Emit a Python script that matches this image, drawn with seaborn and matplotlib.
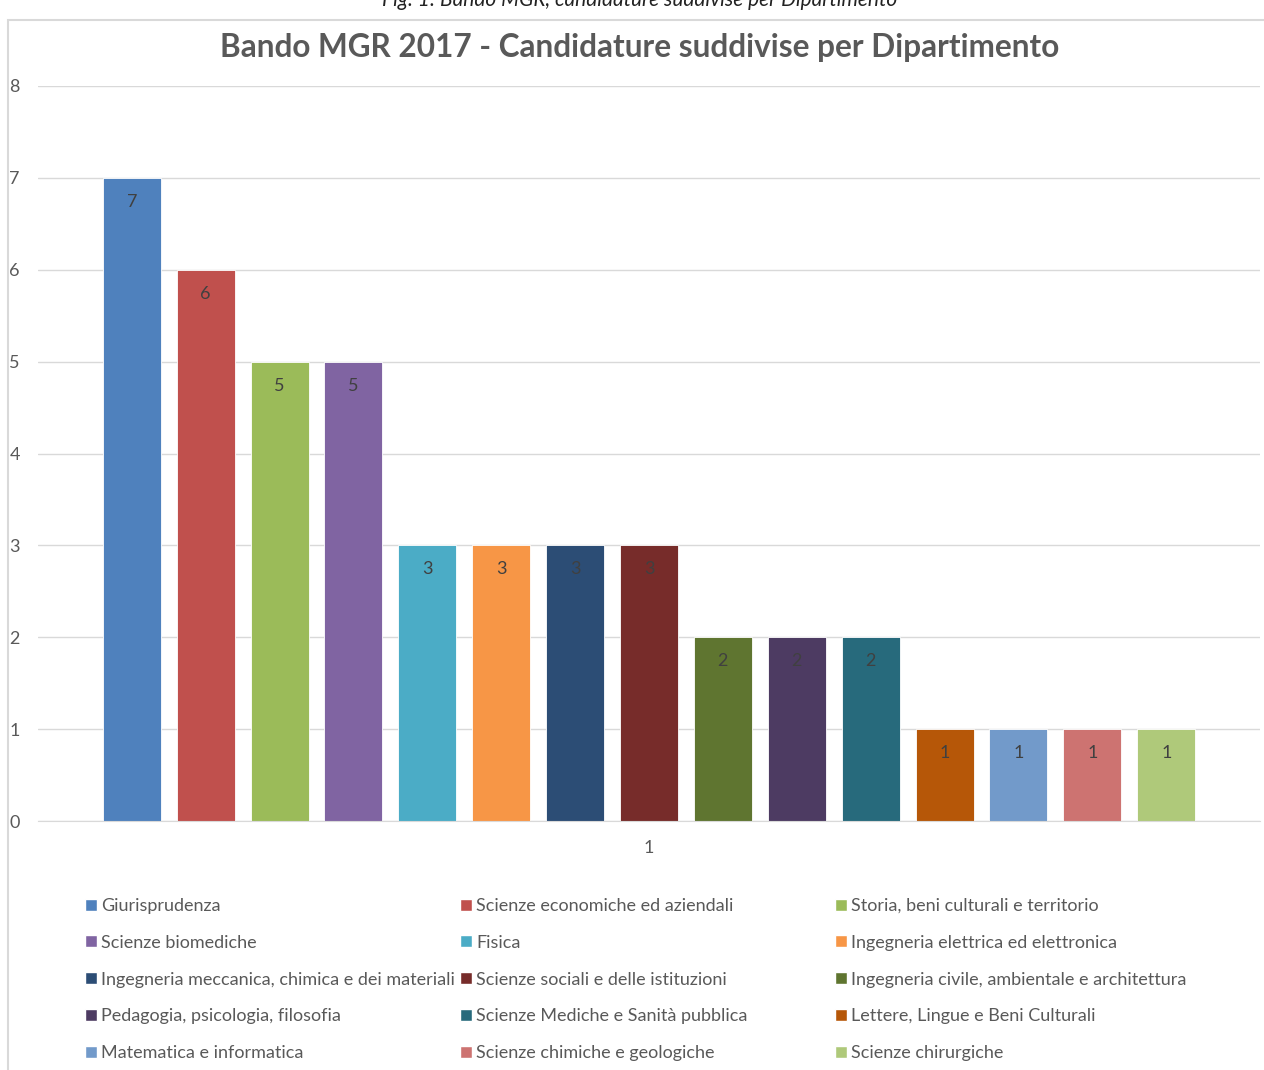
import matplotlib
matplotlib.use('Agg')
import matplotlib.pyplot as plt
import seaborn as sns
import pandas as pd
from matplotlib.patches import Rectangle, Patch

# dati
dipartimenti = ['Giurisprudenza', 'Scienze economiche ed aziendali', 'Storia, beni culturali e territorio',
                'Scienze biomediche', 'Fisica', 'Ingegneria elettrica ed elettronica',
                'Ingegneria meccanica, chimica e dei materiali', 'Scienze sociali e delle istituzioni',
                'Ingegneria civile, ambientale e architettura', 'Pedagogia, psicologia, filosofia',
                'Scienze Mediche e Sanità pubblica', 'Lettere, Lingue e Beni Culturali',
                'Matematica e informatica', 'Scienze chimiche e geologiche', 'Scienze chirurgiche']
candidature = [7, 6, 5, 5, 3, 3, 3, 3, 2, 2, 2, 1, 1, 1, 1]
categoria = ['1'] * len(dipartimenti)
colori = ['#4F81BD', '#C0504D', '#9BBB59', '#8064A2', '#4BACC6', '#F79646', '#2C4D75', '#772C2A',
          '#5F7530', '#4D3B62', '#276A7C', '#B65708', '#729ACA', '#CD7371', '#AFC97A']

df = pd.DataFrame({'categoria': categoria, 'dipartimento': dipartimenti, 'candidature': candidature})

sns.set_style('white')
plt.rcParams['font.family'] = ['Lato', 'DejaVu Sans']
grigio = '#595959'

fig = plt.figure(figsize=(12.64, 10.7), dpi=100)
ax = fig.add_axes([38 / 1264, 1 - 821 / 1070, (1260 - 38) / 1264, (821 - 86) / 1070])

sns.barplot(data=df, x='categoria', y='candidature', hue='dipartimento', palette=colori, saturation=1,
            width=0.907, gap=0.215, edgecolor='white', linewidth=0.6, legend=False, ax=ax)

for c in ax.containers:
    ax.bar_label(c, padding=-23, fontsize=13, color='#404040')

ax.set_xlim(-0.5, 0.5)
ax.set_ylim(0, 8)
ax.set_yticks(range(0, 9))
ax.yaxis.grid(True, color='#d9d9d9', linewidth=1)
ax.set_axisbelow(True)
for s in ['top', 'right', 'left']:
    ax.spines[s].set_visible(False)
ax.spines['bottom'].set_color('#d9d9d9')
ax.tick_params(axis='both', length=0, labelsize=13, colors=grigio)
ax.tick_params(axis='y', pad=13)
ax.tick_params(axis='x', pad=14)
ax.set_xlabel('')
ax.set_ylabel('')

fig.text(640 / 1264, 1 - 47 / 1070, 'Bando MGR 2017 - Candidature suddivise per Dipartimento',
         ha='center', va='center', fontsize=22.7, fontweight='bold', color=grigio)
fig.text(640 / 1264, 1.0, 'Fig. 1: Bando MGR, candidature suddivise per Dipartimento',
         ha='center', va='center', fontsize=15, style='italic', color='#222222')

# cornice del grafico
fig.patches.append(Rectangle((8 / 1264, -0.05), 1.2, 1 - 20 / 1070 + 0.05, transform=fig.transFigure,
                             fill=False, edgecolor='#d9d9d9', linewidth=1.5))

# legenda in tre colonne, ordine per righe
maniglie = [Patch(facecolor=colori[i], label=dipartimenti[i]) for i in range(len(dipartimenti))]
for col, x0 in enumerate([85, 460, 835]):
    fig.legend(handles=maniglie[col::3], loc='upper left', bbox_to_anchor=(x0 / 1264, 1 - 898 / 1070),
               frameon=False, fontsize=13, labelcolor=grigio, handlelength=0.65, handleheight=0.65,
               handletextpad=0.25, labelspacing=1.15, borderaxespad=0, borderpad=0)

fig.savefig('out.png', dpi=100)
